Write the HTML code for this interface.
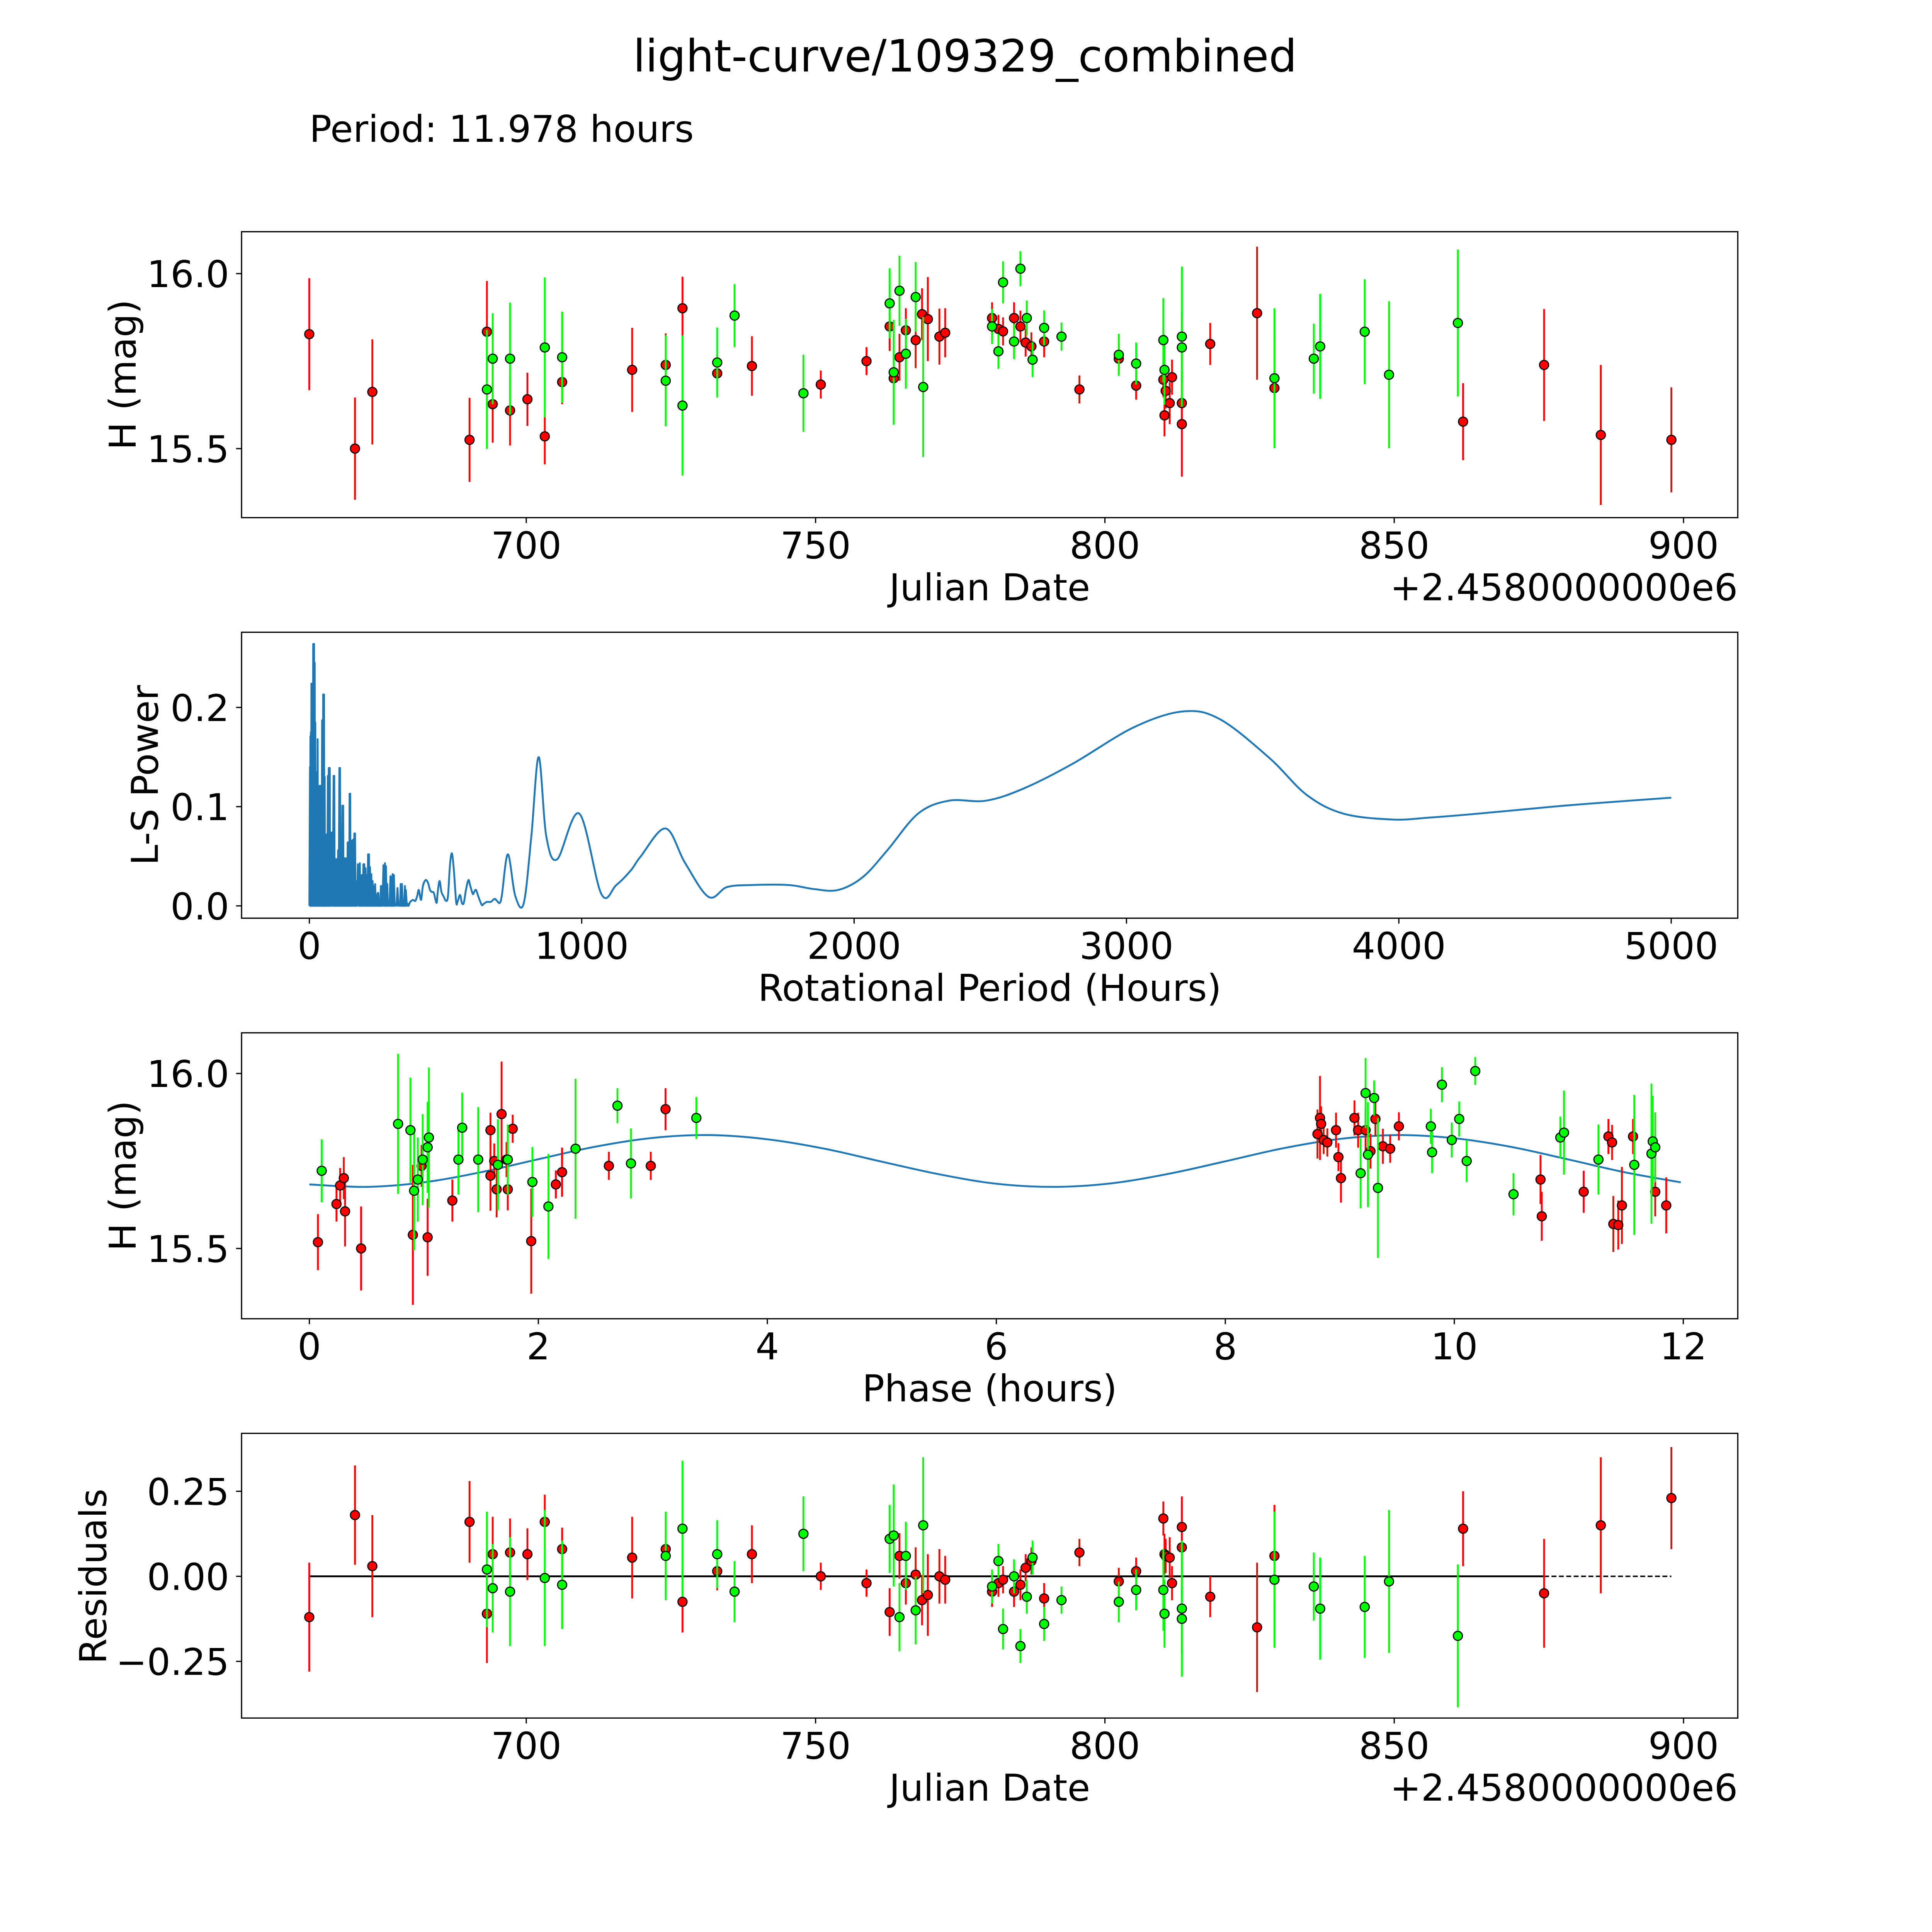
<!DOCTYPE html>
<html><head><meta charset="utf-8"><title>light-curve/109329_combined</title>
<style>html,body{margin:0;padding:0;background:#fff;overflow:hidden;width:5400px;height:5400px}svg{display:block;position:absolute;left:0;top:0}text{font-family:"DejaVu Sans","Liberation Sans",sans-serif;fill:#000}</style>
</head><body>
<svg id="fig" xmlns="http://www.w3.org/2000/svg" width="5400" height="5400" viewBox="0 0 1693 1693" preserveAspectRatio="xMinYMin meet">
<rect x="0" y="0" width="1693" height="1693" fill="#fff"/>
<text x="783" y="58" font-size="36" text-anchor="middle">light-curve/109329_combined</text>
<text x="251" y="115" font-size="30">Period: 11.978 hours</text>
</svg>
<script>
// ---------- data: panel 1 light curve (red filter) ----------
const redDates=[662.5,670.4,673.4,690.2,693.2,694.2,697.2,700.2,703.2,706.2,718.3,724.1,727.0,733.0,739.0,750.9,758.8,762.8,763.5,764.5,765.6,767.3,768.4,769.4,771.4,772.4,780.5,781.6,782.4,784.3,785.4,786.3,787.3,789.5,795.6,802.4,805.4,810.1,810.3,810.5,811.2,811.6,813.3,813.3,818.2,826.3,829.3,861.9,875.9,885.7,897.9];
const redMags=[15.827,15.500,15.662,15.525,15.834,15.627,15.609,15.641,15.535,15.690,15.725,15.739,15.901,15.715,15.736,15.683,15.750,15.849,15.701,15.761,15.838,15.810,15.884,15.870,15.820,15.831,15.873,15.842,15.835,15.873,15.849,15.803,15.792,15.806,15.669,15.757,15.680,15.697,15.595,15.665,15.630,15.704,15.630,15.570,15.799,15.887,15.673,15.577,15.739,15.539,15.525];
const redErrs=[0.16,0.146,0.15,0.12,0.145,0.11,0.10,0.076,0.08,0.063,0.12,0.09,0.09,0.056,0.085,0.04,0.04,0.07,0.067,0.067,0.063,0.08,0.074,0.12,0.08,0.07,0.045,0.04,0.04,0.045,0.045,0.04,0.04,0.045,0.04,0.04,0.04,0.05,0.06,0.05,0.06,0.05,0.07,0.15,0.06,0.19,0.15,0.11,0.16,0.2,0.15];
const redResid=[-0.12,0.18,0.03,0.16,-0.11,0.065,0.07,0.065,0.16,0.08,0.055,0.08,-0.075,0.015,0.065,0,-0.02,-0.105,0.12,0.06,-0.02,0.005,-0.07,-0.055,0,-0.01,-0.045,-0.02,-0.01,-0.045,-0.025,0.025,0.045,-0.065,0.07,-0.015,0.015,0.17,0.065,0.06,0.055,-0.02,0.145,0.085,-0.06,-0.15,0.06,0.14,-0.05,0.15,0.23];
// ---------- data: panel 1 light curve (green filter) ----------
const greenDates=[693.2,694.2,697.2,703.2,706.2,724.1,727.0,733.0,736.0,747.9,762.8,763.5,764.5,765.6,767.3,768.6,780.5,781.6,782.4,784.3,785.4,786.5,787.5,789.5,792.5,802.4,805.4,810.1,810.3,813.3,813.3,829.3,836.1,837.2,844.9,849.1,861.0];
const greenMags=[15.669,15.757,15.757,15.789,15.761,15.694,15.623,15.746,15.880,15.658,15.915,15.718,15.951,15.771,15.933,15.676,15.849,15.778,15.975,15.806,16.014,15.873,15.754,15.845,15.820,15.768,15.743,15.810,15.725,15.820,15.789,15.701,15.757,15.792,15.834,15.711,15.859];
const greenErrs=[0.17,0.13,0.16,0.2,0.13,0.13,0.2,0.1,0.09,0.11,0.1,0.15,0.1,0.1,0.1,0.2,0.05,0.05,0.06,0.05,0.05,0.05,0.05,0.05,0.04,0.06,0.06,0.12,0.1,0.2,0.1,0.2,0.1,0.15,0.15,0.21,0.21];
const greenResid=[0.02,-0.035,-0.045,-0.005,-0.025,0.06,0.14,0.065,-0.045,0.125,0.11,0.12,-0.12,0.06,-0.1,0.15,-0.03,0.045,-0.155,0,-0.205,-0.06,0.055,-0.14,-0.07,-0.075,-0.04,-0.04,-0.11,-0.095,-0.125,-0.01,-0.03,-0.095,-0.09,-0.015,-0.175];
// ---------- data: periodogram ----------
const spikeHours=[2.3,3.8,5.6,7.5,10.3,14.1,17.4,19.7,22,23.5,25.8,30.5,32.8,37.5,41.3,43.1,46.9,50.7,53.9,56.3,58.6,63.3,68,71.3,75,77.4,82.1,89.1,91.5,94.7,98.5,100.8,105.5,110.2,112.6,117.3,121,124.3,126.6,131.3,133.7,136,140.7,144.5,147.7,150.1,152.4,157.1,161.8,165.1,167.9,171.2,178.2,185.3,188.5,192.3,198.4,201.7,206.4,210.1,215.7,219,222.8,227.5,232.2,236.8,241.5,246.2,250.9,253.3,258,262.6,265,272,277.6,281.4,286.1,290.8,297.8,302.5,305.8,310.5,316.6,323.6,330.6,335.3,340,344.7,350.8,354.1,362.1];
const spikePower=[0.140,0.171,0.175,0.224,0.224,0.264,0.264,0.245,0.185,0.135,0.119,0.168,0.092,0.121,0.121,0.072,0.187,0.213,0.213,0.130,0.047,0.072,0.131,0.139,0.139,0.074,0.074,0.131,0.131,0.047,0.047,0.047,0.056,0.139,0.139,0.038,0.101,0.101,0.041,0.048,0.048,0.034,0.064,0.064,0.113,0.113,0.034,0.066,0.067,0.073,0.073,0.025,0.042,0.043,0.005,0.031,0.042,0.042,0.038,0.031,0.052,0.052,0.039,0.032,0.025,0.020,0.022,0.011,0.013,0.013,0.005,0.020,0.020,0.041,0.043,0.040,0.022,0.004,0.030,0.029,0.032,0.031,0.002,0.018,0.002,0.022,0.022,0.002,0.020,0.016,0.002];
const smoothHours=[370,380,389,396,402,410,417,427,436,443,450,457,467,471,478,485,492,502,509,516,523,530,539,544,553,560,567,575,584,591,600,605,612,621,633,640,652,666,680,689,699,707,729,756,787,815,842,870,910,991,1072,1127,1181,1217,1308,1380,1466,1534,1624,1760,1851,1941,2032,2122,2235,2348,2484,2620,2801,3027,3208,3344,3525,3661,3796,3977,4113,4294,4566,4747,5000];
const smoothPower=[0.004,0.006,0.005,0.010,0.016,0.006,0.020,0.026,0.023,0.016,0.014,0.013,0.003,0.013,0.025,0.014,0.010,0.005,0.010,0.040,0.053,0.038,0.004,0.004,0.011,0.003,0.003,0.016,0.026,0.020,0.012,0.014,0.016,0.009,0.001,0.002,0.004,0.004,0.007,0.005,0.003,0.011,0.052,0.010,0.0025,0.07,0.150,0.07,0.047,0.093,0.012,0.021,0.036,0.050,0.078,0.043,0.009,0.019,0.021,0.021,0.017,0.016,0.029,0.056,0.093,0.106,0.106,0.118,0.143,0.180,0.196,0.188,0.149,0.112,0.093,0.087,0.089,0.093,0.100,0.104,0.109];
// ---------- data: phase-folded ----------
const redPhase=[0.075,0.237,0.269,0.301,0.312,0.452,0.904,0.980,1.033,1.249,1.582,1.582,1.615,1.636,1.679,1.722,1.733,1.776,1.938,2.153,2.207,2.616,2.982,3.111,8.805,8.827,8.837,8.859,8.891,8.967,8.988,9.010,9.128,9.160,9.225,9.268,9.311,9.376,9.440,9.516,10.753,10.764,11.130,11.346,11.378,11.389,11.432,11.464,11.561,11.755,11.851];
const redPhaseMags=[15.518,15.627,15.680,15.701,15.606,15.500,15.539,15.736,15.532,15.637,15.838,15.708,15.750,15.669,15.884,15.754,15.669,15.842,15.521,15.683,15.718,15.736,15.736,15.898,15.827,15.873,15.856,15.810,15.803,15.838,15.761,15.701,15.873,15.838,15.838,15.778,15.870,15.792,15.785,15.849,15.697,15.592,15.662,15.820,15.803,15.570,15.567,15.623,15.820,15.662,15.623];
const redPhaseErrs=[0.08,0.05,0.05,0.06,0.1,0.12,0.2,0.06,0.11,0.06,0.05,0.1,0.05,0.08,0.15,0.05,0.06,0.04,0.15,0.04,0.07,0.04,0.04,0.06,0.07,0.12,0.05,0.04,0.04,0.05,0.04,0.07,0.05,0.05,0.06,0.05,0.05,0.05,0.04,0.04,0.07,0.07,0.06,0.05,0.05,0.08,0.07,0.11,0.05,0.07,0.08];
const greenPhase=[0.108,0.775,0.883,0.915,0.947,0.990,1.033,1.044,1.302,1.335,1.475,1.647,1.733,1.948,2.088,2.325,2.691,2.809,3.380,9.182,9.225,9.246,9.300,9.333,9.795,9.806,9.892,9.978,10.043,10.108,10.183,10.517,10.926,10.958,11.259,11.572,11.722,11.733,11.755];
const greenPhaseMags=[15.722,15.856,15.838,15.665,15.697,15.754,15.789,15.817,15.754,15.845,15.754,15.739,15.754,15.690,15.620,15.785,15.908,15.743,15.873,15.715,15.944,15.768,15.930,15.673,15.849,15.775,15.968,15.810,15.870,15.750,16.007,15.655,15.817,15.831,15.754,15.739,15.771,15.806,15.789];
const greenPhaseErrs=[0.09,0.2,0.15,0.17,0.12,0.13,0.13,0.2,0.1,0.1,0.15,0.13,0.1,0.1,0.15,0.2,0.05,0.1,0.06,0.1,0.1,0.15,0.05,0.2,0.05,0.06,0.05,0.05,0.05,0.06,0.04,0.06,0.06,0.12,0.1,0.2,0.2,0.13,0.1];
const modelPhase=[0,0.5,1,1.5,2,2.5,3,3.5,4,4.5,5,5.5,6,6.5,7,7.5,8,8.5,9,9.5,10,10.5,11,11.5,11.978];
const modelMags=[15.683,15.676,15.689,15.718,15.755,15.791,15.816,15.824,15.812,15.785,15.748,15.712,15.685,15.676,15.686,15.713,15.749,15.786,15.813,15.824,15.815,15.790,15.754,15.717,15.689];
// ---------- tick labels ----------
const dateTicks=[700,750,800,850,900];
const magTicks=[15.5,16.0];
const lsXTicks=[0,1000,2000,3000,4000,5000];
const lsYTicks=[0.0,0.1,0.2];
const phaseTicks=[0,2,4,6,8,10,12];
const residTicks=[-0.25,0,0.25];

const NS="http://www.w3.org/2000/svg";
const svg=document.getElementById('fig');
function mk(tag,attrs,parent){const e=document.createElementNS(NS,tag);for(const k in attrs)e.setAttribute(k,attrs[k]);(parent||svg).appendChild(e);return e;}

const P1={l:196,t:188,r:1410,b:420,x:t=>427+(t-700)*4.695,y:m=>222-(m-16)*284};
const P2={l:196,t:513,r:1410,b:745,x:h=>251+h*0.221,y:p=>735-p*805};
const P3={l:196,t:838,r:1410,b:1070,x:p=>251+p*92.9,y:m=>871-(m-16)*284};
const P4={l:196,t:1163,r:1410,b:1394,x:t=>427+(t-700)*4.695,y:r=>1279-r*276};

function frame(P,name){
  const r=mk('rect',{x:P.l,y:P.t,width:P.r-P.l,height:P.b-P.t,fill:'none',stroke:'#000','stroke-width':1});
  
  
}
function xticks(P,vals,fmt,name){
  vals.forEach(v=>{const x=P.x(v);
    const l=mk('line',{x1:x,x2:x,y1:P.b,y2:P.b+4.4,stroke:'#000','stroke-width':1});
    
    
    const t=mk('text',{x:x,y:P.b+33,'font-size':30,'text-anchor':'middle'});
    t.textContent=fmt(v);
    
    });
}
function yticks(P,vals,fmt,name){
  vals.forEach(v=>{const y=P.y(v);
    const l=mk('line',{x1:P.l-4.4,x2:P.l,y1:y,y2:y,stroke:'#000','stroke-width':1});
    
    
    const t=mk('text',{x:P.l-10,y:y+11,'font-size':30,'text-anchor':'end'});
    t.textContent=fmt(v);
    
    });
}
function label(x,y,txt,rot,name,anchor){
  const t=mk('text',{x:x,y:y,'font-size':30,'text-anchor':anchor||'middle'});
  if(rot)t.setAttribute('transform','rotate(-90 '+x+' '+y+')');
  t.textContent=txt;
  
  
}
function errPoints(P,xs,ys,es,color,name){
  const g=mk('g',{});
  
  
  xs.forEach((xv,i)=>{const x=P.x(xv);
    const l=mk('line',{x1:x,x2:x,y1:P.y(ys[i]-es[i]),y2:P.y(ys[i]+es[i]),stroke:color,'stroke-width':1.5},g);
    
    });
  xs.forEach((xv,i)=>{
    const c=mk('circle',{cx:P.x(xv),cy:P.y(ys[i]),r:3.7,fill:color,stroke:'#000','stroke-width':0.9},g);
    
    });
}
function smoothPath(pts){
  let d='M'+pts[0][0]+' '+pts[0][1];
  for(let i=0;i<pts.length-1;i++){
    const p0=pts[Math.max(i-1,0)],p1=pts[i],p2=pts[i+1],p3=pts[Math.min(i+2,pts.length-1)];
    const c1=[p1[0]+(p2[0]-p0[0])/6,p1[1]+(p2[1]-p0[1])/6],c2=[p2[0]-(p3[0]-p1[0])/6,p2[1]-(p3[1]-p1[1])/6];
    d+=' C'+c1[0].toFixed(2)+' '+c1[1].toFixed(2)+' '+c2[0].toFixed(2)+' '+c2[1].toFixed(2)+' '+p2[0].toFixed(2)+' '+p2[1].toFixed(2);
  }
  return d;
}
const f1=v=>v.toFixed(1), f0=v=>String(v), fr=v=>(v<0?'\u2212':'')+Math.abs(v).toFixed(2);

// Panel 1
frame(P1,'lightcurve');
xticks(P1,dateTicks,f0,'lightcurve');
yticks(P1,magTicks,f1,'lightcurve');
label(803,487,'Julian Date',false,'lightcurve-x-axis-title');
label(1410,487,'+2.4580000000e6',false,'lightcurve-x-offset','end');
label(110,304,'H (mag)',true,'lightcurve-y-axis-title');
errPoints(P1,redDates,redMags,redErrs,'#ff0000','lightcurve-red-series');
errPoints(P1,greenDates,greenMags,greenErrs,'#00ff00','lightcurve-green-series');

// Panel 2
frame(P2,'periodogram');
xticks(P2,lsXTicks,f0,'periodogram');
yticks(P2,lsYTicks,f1,'periodogram');
label(803,812,'Rotational Period (Hours)',false,'periodogram-x-axis-title');
label(128,629,'L-S Power',true,'periodogram-y-axis-title');
(function(){
  let d='M'+P2.x(0).toFixed(2)+' '+P2.y(0).toFixed(2);
  for(let i=0;i<spikeHours.length;i++){
    d+=' L'+P2.x(spikeHours[i]).toFixed(2)+' '+P2.y(spikePower[i]).toFixed(2);
    const nx=i<spikeHours.length-1?(spikeHours[i]+spikeHours[i+1])/2:spikeHours[i]+2;
    d+=' L'+P2.x(nx).toFixed(2)+' '+P2.y(0).toFixed(2);
  }
  const pts=smoothHours.map((h,i)=>[P2.x(h),P2.y(smoothPower[i])]);
  const sp=smoothPath(pts).replace(/^M/,' L');
  const p=mk('path',{d:d+sp,fill:'none',stroke:'#1f77b4','stroke-width':1.5,'stroke-linejoin':'round'});
  
  
})();

// Panel 3
frame(P3,'phase');
xticks(P3,phaseTicks,f0,'phase');
yticks(P3,magTicks,f1,'phase');
label(803,1137,'Phase (hours)',false,'phase-x-axis-title');
label(110,954,'H (mag)',true,'phase-y-axis-title');
(function(){
  const pts=modelPhase.map((p,i)=>[P3.x(p),P3.y(modelMags[i])]);
  const p=mk('path',{d:smoothPath(pts),fill:'none',stroke:'#1f77b4','stroke-width':1.5});
  
  
})();
errPoints(P3,redPhase,redPhaseMags,redPhaseErrs,'#ff0000','phase-red-series');
errPoints(P3,greenPhase,greenPhaseMags,greenPhaseErrs,'#00ff00','phase-green-series');

// Panel 4
frame(P4,'residuals');
xticks(P4,dateTicks,f0,'residuals');
yticks(P4,residTicks,fr,'residuals');
label(803,1461,'Julian Date',false,'residuals-x-axis-title');
label(1410,1461,'+2.4580000000e6',false,'residuals-x-offset','end');
label(86,1279,'Residuals',true,'residuals-y-axis-title');
(function(){
  const l1=mk('line',{x1:P4.x(redDates[0]),x2:P4.x(875.9),y1:P4.y(0),y2:P4.y(0),stroke:'#000','stroke-width':1.5});
  
  
  const l2=mk('line',{x1:P4.x(875.9),x2:P4.x(redDates[redDates.length-1]),y1:P4.y(0),y2:P4.y(0),stroke:'#000','stroke-width':1.2,'stroke-dasharray':'4 2'});
  
  
})();
errPoints(P4,redDates,redResid,redErrs,'#ff0000','residuals-red-series');
errPoints(P4,greenDates,greenResid,greenErrs,'#00ff00','residuals-green-series');
</script>
</body></html>
